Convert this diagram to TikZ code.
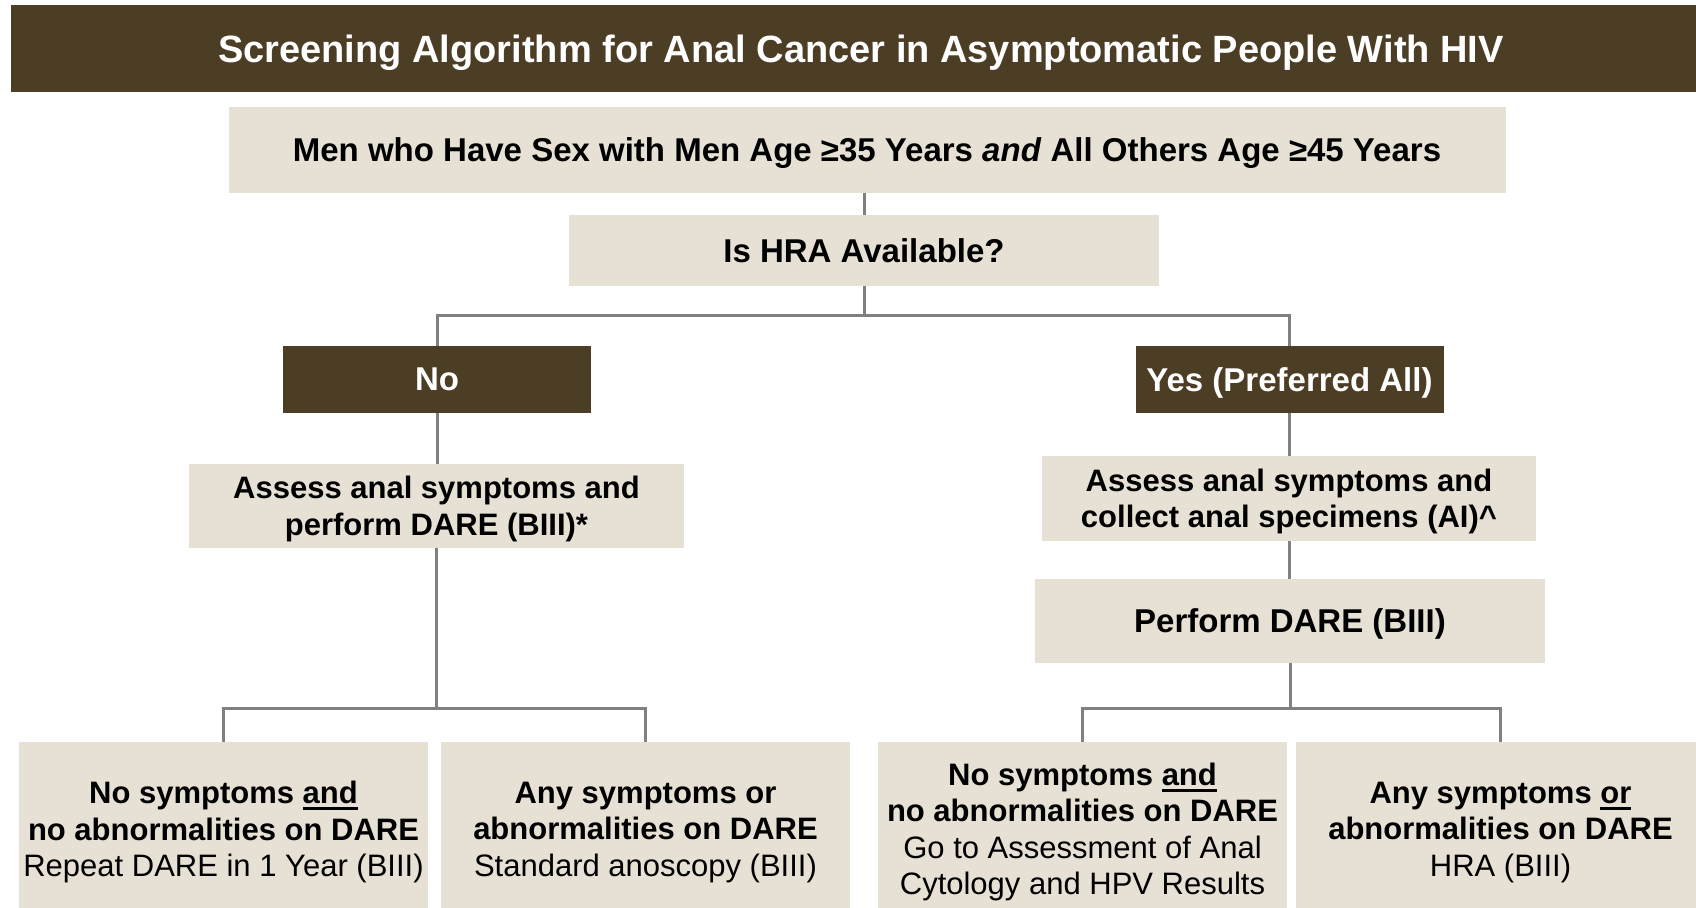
\documentclass[tikz,border=0pt]{standalone}
\usepackage{fontspec}
\setmainfont{Liberation Sans}
\definecolor{hivbrown}{RGB}{76,61,37}
\definecolor{hivbeige}{RGB}{231,225,213}
\definecolor{hivgray}{RGB}{128,128,128}
\newcommand{\headfont}{\fontsize{38}{44}\selectfont\bfseries}
\newcommand{\bigfont}{\fontsize{33}{38}\selectfont\bfseries}
\newcommand{\boxfont}{\fontsize{31}{36.5}\selectfont\bfseries}
\newcommand{\undl}[1]{\setbox0\hbox{#1}\rlap{\vrule height -3.5pt depth 6.5pt width \wd0}\box0}
\tikzset{
  banner/.style={fill=hivbrown,text=white,font=\headfont,inner sep=0pt,text depth=0pt},
  box/.style={fill=hivbeige,inner sep=0pt,align=center,font=\boxfont,text depth=0pt},
  choice/.style={fill=hivbrown,text=white,inner sep=0pt,font=\bigfont,text depth=0pt},
  outcome/.style={box,minimum width=409pt,minimum height=174pt},
  link/.style={line width=3pt,hivgray},
}
\begin{document}
\begin{tikzpicture}[x=1pt,y=-1pt]
  \useasboundingbox (0,0) rectangle (1696,907);
  \clip (0,0) rectangle (1696,907);
  \node[banner,minimum width=1700pt,minimum height=87pt] (head) at (861,48.5)
    {Screening Algorithm for Anal Cancer in Asymptomatic People With HIV};
  % top of the tree
  \node[box,font=\bigfont,minimum width=1277pt,minimum height=86pt] (who) at (867,150)
    {Men who Have Sex with Men Age ≥35 Years \textit{and} All Others Age ≥45 Years};
  \node[box,font=\bigfont,minimum width=590pt,minimum height=71pt] (hra) at (864,250.5) {Is HRA Available?};
  \node[choice,minimum width=308pt,minimum height=67pt] (no) at (437,379.5) {No};
  \node[choice,minimum width=308pt,minimum height=67pt] (yes) at (1289.5,379.5) {Yes (Preferred All)};
  % no HRA branch
  \node[box,minimum width=495pt,minimum height=84pt] (symL) at (436.5,506)
    {Assess anal symptoms and\\perform DARE (BIII)*};
  % HRA branch
  \node[box,minimum width=494pt,minimum height=85pt] (symR) at (1289,498.5)
    {Assess anal symptoms and\\collect anal specimens (AI)\textasciicircum};
  \node[box,font=\bigfont,minimum width=510pt,minimum height=84pt] (dare) at (1290,621) {Perform DARE (BIII)};
  % outcomes
  \node[outcome] (repeat) at (223.5,829)
    {No symptoms \undl{and}\\no abnormalities on DARE\\\mdseries Repeat DARE in 1 Year (BIII)};
  \node[outcome] (scope) at (645.5,829)
    {Any symptoms or\\abnormalities on DARE\\\mdseries Standard anoscopy (BIII)};
  \node[outcome] (cyto) at (1082.5,829)
    {No symptoms \undl{and}\\no abnormalities on DARE\\\mdseries Go to Assessment of Anal\\\mdseries Cytology and HPV Results};
  \node[outcome] (hrares) at (1500.5,829)
    {Any symptoms \undl{or}\\abnormalities on DARE\\\mdseries HRA (BIII)};
  % connectors
  \draw[link] (hra.north |- who.south) -- (hra.north);
  \path (hra.south) ++(0,29) coordinate (fork);
  \draw[link] (hra.south) -- (fork);
  \draw[link] (no.north) |- (fork) -| (yes.north);
  \draw[link] (no.south) -- (no.south |- symL.north);
  \path (symL.south) ++(0,160) coordinate (forkL);
  \draw[link] (symL.south) -- (forkL);
  \draw[link] (repeat.north) |- (forkL) -| (scope.north);
  \draw[link] (yes.south) -- (yes.south |- symR.north);
  \draw[link] (symR.south) -- (symR.south |- dare.north);
  \path (dare.south) ++(0,45) coordinate (forkR);
  \draw[link] (dare.south) -- (forkR);
  \draw[link] (cyto.north) |- (forkR) -| (hrares.north);
\end{tikzpicture}
\end{document}
